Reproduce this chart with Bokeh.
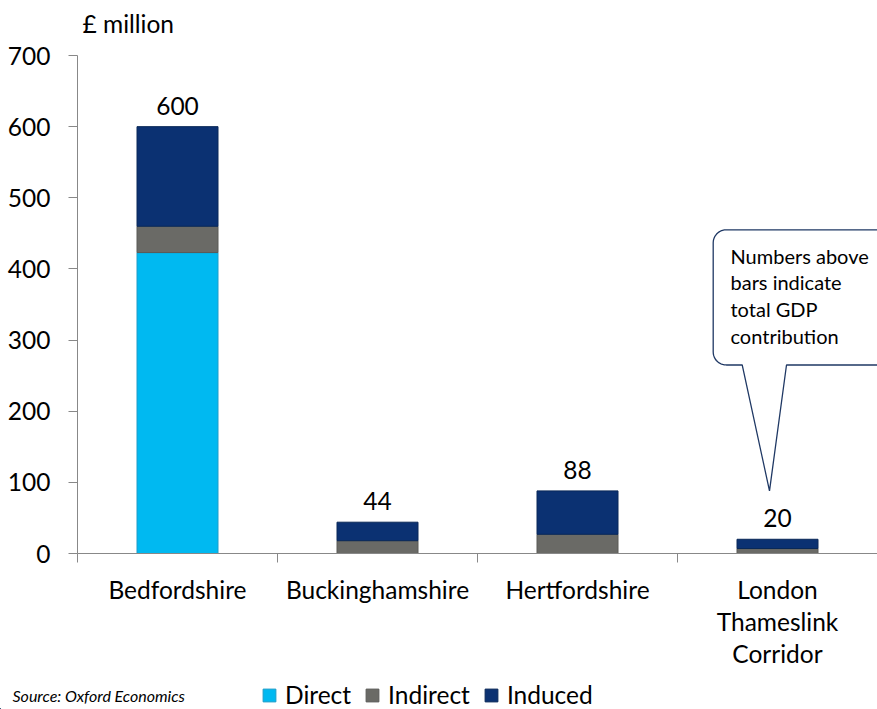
import numpy as np
from bokeh.plotting import figure
from bokeh.layouts import column
from bokeh.models import Range1d, FixedTicker, Label, ColumnDataSource, Legend, LegendItem
from bokeh.core.properties import value
from bokeh.embed import file_html
from bokeh.resources import INLINE

# ---- data ----
categories = ["Bedfordshire", "Buckinghamshire", "Hertfordshire", "London\nThameslink\nCorridor"]
direct = [423, 0, 0, 0]
indirect = [37, 18, 27, 7]
induced = [140, 26, 61, 13]
totals = [600, 44, 88, 20]
series = ["Direct", "Indirect", "Induced"]
colors = ["#00B9F1", "#6A6A66", "#0B3172"]
edge_colors = ["#1E9CC8", "#5A5A57", "#0A2858"]
y_ticks = [0, 100, 200, 300, 400, 500, 600, 700]
y_label = "£ million"
source_note = "Source: Oxford Economics"
callout_lines = ["Numbers above", "bars indicate", "total GDP", "contribution"]

FONT = "Lato"
FS = "24.5px"
MAIN_H = 671
FOOT_H = 709 - MAIN_H
Y_TOP = 770.3   # headroom above the 700 tick for the unit label

x = list(range(len(categories)))
src = ColumnDataSource(dict(x=x, Direct=direct, Indirect=indirect, Induced=induced))

p = figure(width=877, height=MAIN_H, output_backend="svg", toolbar_location=None,
           x_range=Range1d(-0.5, len(categories) - 0.5), y_range=Range1d(0, Y_TOP),
           min_border_left=77, min_border_right=0, min_border_top=5, min_border_bottom=117)
p.frame_align = False
p.outline_line_color = None
p.xgrid.grid_line_color = None
p.ygrid.grid_line_color = None
p.background_fill_color = "white"

p.vbar_stack(series, x="x", width=0.405, source=src, color=colors,
             line_color=edge_colors, line_width=1)

# totals above bars
p.text(x=x, y=totals, text=[str(t) for t in totals], text_align="center",
       text_baseline="alphabetic", y_offset=-21, text_font=value(FONT),
       text_font_size=FS, text_color="black")

# axes
p.yaxis.ticker = FixedTicker(ticks=y_ticks)
p.yaxis.bounds = (y_ticks[0], y_ticks[-1])
p.yaxis.axis_line_color = "#888888"
p.yaxis.major_tick_line_color = "#888888"
p.yaxis.major_tick_out = 9
p.yaxis.major_tick_in = 0
p.yaxis.minor_tick_line_color = None
p.yaxis.major_label_standoff = 18
p.yaxis.major_label_text_font = FONT
p.yaxis.major_label_text_font_size = FS
p.yaxis.major_label_text_color = "black"

p.xaxis.ticker = FixedTicker(ticks=x, minor_ticks=[i - 0.5 for i in range(len(categories) + 1)])
p.xaxis.major_label_overrides = {i: c for i, c in enumerate(categories)}
p.xaxis.axis_line_color = "#888888"
p.xaxis.major_tick_line_color = None
p.xaxis.major_tick_out = 9
p.xaxis.major_tick_in = 0
p.xaxis.minor_tick_line_color = "#888888"
p.xaxis.minor_tick_out = 9
p.xaxis.minor_tick_in = 0
p.xaxis.major_label_standoff = 12
p.xaxis.major_label_text_font = FONT
p.xaxis.major_label_text_font_size = FS
p.xaxis.major_label_text_color = "black"
p.xaxis.major_label_text_line_height = 1.12

# unit label
p.add_layout(Label(x=-0.475, y=745, text=y_label, text_font=FONT, text_font_size=FS,
                   text_baseline="middle", text_color="black"))

# callout bubble
L, R, B, T = 2.6785, 3.566, 265, 455
tl, tr, tipx, tipy = 2.8235, 3.045, 2.96, 88
rx, ry = 13 / 200.0, 13 / (498 / 700.0)

def arc(cx, cy, a0, a1, n=12):
    a = np.radians(np.linspace(a0, a1, n))
    return list(cx + rx * np.cos(a)), list(cy + ry * np.sin(a))

xs, ys = [tl, tipx, tr], [B, tipy, B]
for (cx, cy, a0, a1) in [(R - rx, B + ry, -90, 0), (R - rx, T - ry, 0, 90),
                         (L + rx, T - ry, 90, 180), (L + rx, B + ry, 180, 270)]:
    ax, ay = arc(cx, cy, a0, a1)
    xs += ax
    ys += ay
xs.append(tl)
ys.append(B)
p.patch(xs, ys, fill_color="white", line_color="#1F3864", line_width=1.3)

line_y = [418, 381, 344, 306]
for txt, yy in zip(callout_lines, line_y):
    p.add_layout(Label(x=2.765, y=yy, text=txt, text_font=FONT, text_font_size="20px",
                       text_baseline="middle", text_color="black"))

# ---- footer: source note + legend ----
f = figure(width=877, height=FOOT_H, output_backend="svg", toolbar_location=None,
           x_range=Range1d(0, 877), y_range=Range1d(0, FOOT_H),
           x_axis_type=None, y_axis_type=None,
           min_border_left=0, min_border_right=0, min_border_top=0, min_border_bottom=0)
f.frame_align = False
f.outline_line_color = None
f.xgrid.grid_line_color = None
f.ygrid.grid_line_color = None

items = []
for s, c, ec in zip(series, colors, edge_colors):
    r = f.vbar(x=[-1000], top=[1], bottom=[0], width=1, fill_color=c, line_color=ec, line_width=1)
    items.append(LegendItem(label=s, renderers=[r]))

lg = Legend(items=items, orientation="horizontal", location=(261, 0),
            border_line_color=None, background_fill_alpha=0, padding=0, margin=0,
            spacing=13, label_standoff=8, glyph_width=16, glyph_height=16,
            label_text_font=FONT, label_text_font_size=FS, label_text_color="black",
            label_height=20)
f.add_layout(lg, "center")

f.add_layout(Label(x=12, y=14, text=source_note, text_font=FONT, text_font_size="16px",
                   text_font_style="italic", text_baseline="middle", text_color="black"))

layout = column(p, f, spacing=0)
open("out.html", "w").write(file_html(layout, INLINE))
